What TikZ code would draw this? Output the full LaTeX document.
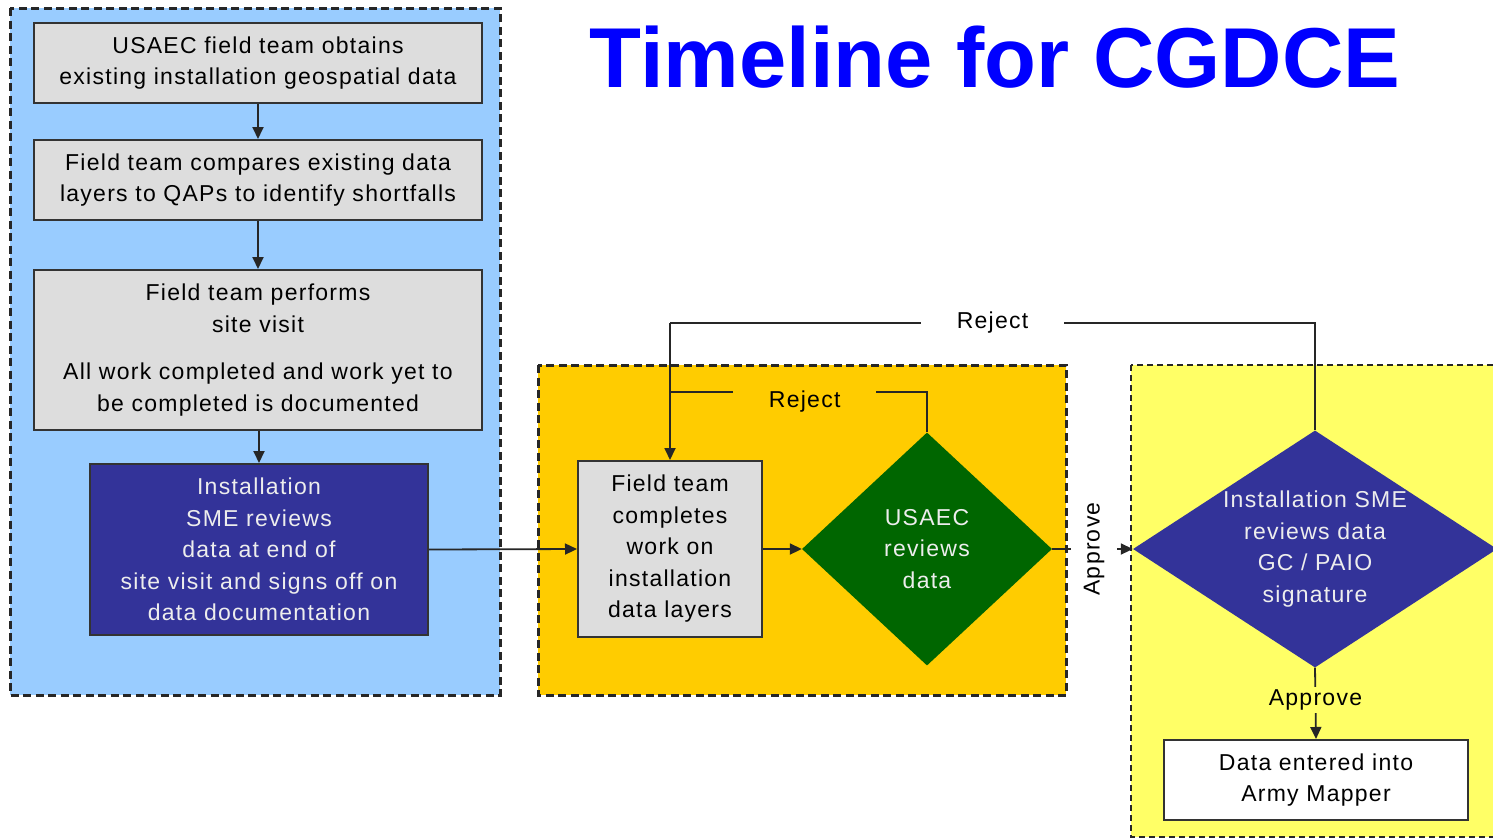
\documentclass[tikz,border=0pt]{standalone}
\usepackage{fontspec}
\setmainfont{Liberation Sans}
\newfontfamily\bodyfont[LetterSpace=5.5]{Liberation Sans}
\usetikzlibrary{shapes.geometric,arrows.meta}
\definecolor{regblue}{RGB}{153,204,255}
\definecolor{regorange}{RGB}{255,204,0}
\definecolor{regyellow}{RGB}{255,255,102}
\definecolor{boxgray}{RGB}{221,221,221}
\definecolor{darkblue}{RGB}{51,51,153}
\definecolor{darkgreen}{RGB}{0,102,0}
\definecolor{titleblue}{RGB}{0,0,255}
\tikzset{
  region/.style={draw=black!85, line width=3pt, dash pattern=on 8pt off 4.5pt},
  regionthin/.style={draw=black!85, line width=2pt, dash pattern=on 6pt off 4pt},
  txt/.style={font=\bodyfont\fontsize{23}{31.5}\selectfont, align=center},
  graybox/.style={txt, rectangle, draw=black!80, line width=2pt, fill=boxgray, inner sep=0pt},
  bluebox/.style={txt, rectangle, draw=black!80, line width=2pt, fill=darkblue, text=white!93!black, inner sep=0pt},
  whitebox/.style={txt, rectangle, draw=black!80, line width=2pt, fill=white, inner sep=0pt},
  decision/.style={txt, diamond, draw=none, inner sep=0pt, text=white!93!black},
  conn/.style={draw=black!85, line width=1.8pt},
  arr/.style={conn, -{Triangle[length=12pt,width=11pt]}},
  lbl/.style={txt, inner sep=0pt}
}
\begin{document}
\begin{tikzpicture}[x=1pt,y=-1pt]
\useasboundingbox (0,0) rectangle (1493,839);
\fill[white] (0,0) rectangle (1493,839);
% regions
\draw[region, fill=regblue] (10,8) rectangle (500,695);
\draw[region, fill=regorange] (538,365) rectangle (1066,695);
\draw[regionthin, fill=regyellow] (1131,365) rectangle (1510,837);
% title
\node[font=\fontsize{85}{90}\selectfont\bfseries, text=titleblue] (title) at (995,57) {Timeline for CGDCE};
% boxes
\node[graybox, minimum width=448pt, minimum height=80pt] (b1) at (258,63)
  {USAEC field team obtains\\existing installation geospatial data};
\node[graybox, minimum width=448pt, minimum height=80pt] (b2) at (258,180)
  {Field team compares existing data\\layers to QAPs to identify shortfalls};
\node[graybox, minimum width=448pt, minimum height=160pt] (b3) at (258,350)
  {Field team performs\\site visit\\[16pt]All work completed and work yet to\\be completed is documented};
\node[bluebox, minimum width=338pt, minimum height=171pt] (b4) at (259,549.5)
  {Installation\\SME reviews\\data at end of\\site visit and signs off on\\data documentation};
\node[graybox, minimum width=184pt, minimum height=176pt] (b5) at (670,549)
  {Field team\\completes\\work on\\installation\\data layers};
\node[decision, fill=darkgreen, minimum width=250pt, minimum height=233pt] (d1) at (927,549)
  {USAEC\\reviews\\data};
\node[decision, fill=darkblue, shape aspect=1.54, minimum width=364pt, minimum height=237pt] (d2) at (1315,549)
  {Installation SME\\reviews data\\GC / PAIO\\signature};
\node[whitebox, minimum width=304pt, minimum height=80pt] (b6) at (1316,780)
  {Data entered into\\Army Mapper};
% connectors
\draw[arr] (b1) -- (b2);
\draw[arr] (b2) -- (b3);
\draw[arr] (b3.south -| b4.north) -- (b4.north);
\draw[arr] (b4.east) -- (b5.west);
\draw[arr] (b5.east) -- (d1.west);
\draw[arr] (d1.east) -- node[pos=0.52, lbl, rotate=90, fill=white, inner xsep=0pt, inner ysep=13pt] (appA) {Approve} (d2.west);
\coordinate (rjO) at (670,323);
\coordinate (rjI) at (670,392);
\draw[conn] (d2.north) |- (rjO) node[pos=0.75, lbl, fill=white, inner xsep=36pt, inner ysep=2pt] (rejO) {Reject};
\draw[conn] (d1.north) |- (rjI) node[pos=0.738, lbl, fill=regorange, inner xsep=36pt, inner ysep=2pt, yshift=-10pt] (rejI) {Reject};
\draw[arr] (rjO) -- (b5.north);
\draw[arr] (d2.south) -- node[pos=0.45, lbl, fill=regyellow, inner ysep=3pt] (appB) {Approve} (b6.north);
\end{tikzpicture}
\end{document}
